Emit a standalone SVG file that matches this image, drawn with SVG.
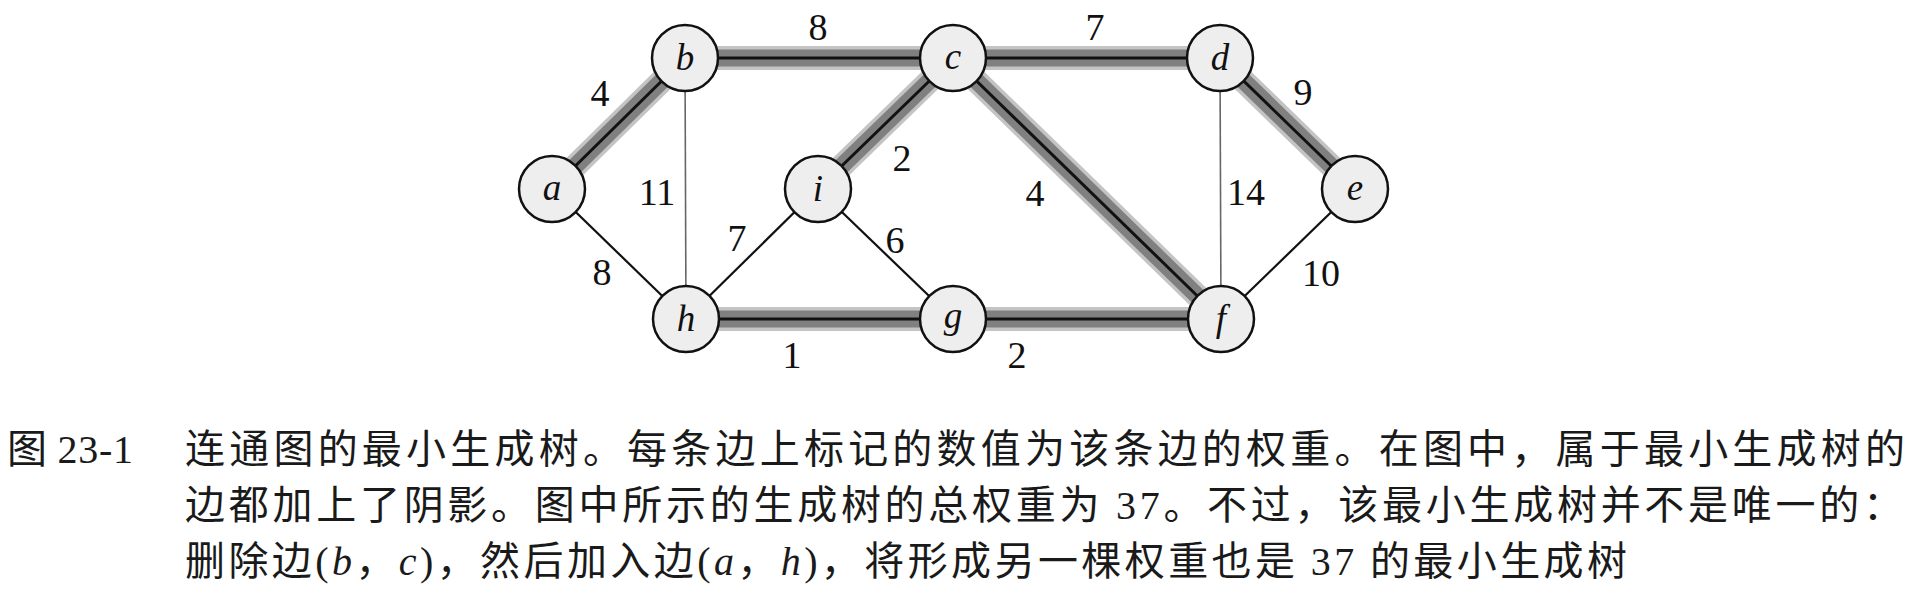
<svg xmlns="http://www.w3.org/2000/svg" width="1918" height="596" viewBox="0 0 1918 596">
<style>
.halo{stroke:#c4c4c4;stroke-width:24;stroke-linecap:butt;fill:none}
.band{stroke:#808080;stroke-width:17;stroke-linecap:butt;fill:none}
.core{stroke:#111;stroke-width:3;fill:none}
.thin{stroke:#111;stroke-width:2.2;fill:none}
.light{stroke:#666;stroke-width:1.6;fill:none}
.node circle{fill:#eeeeee;stroke:#111;stroke-width:2.5}
.node text{font-family:"Liberation Serif",serif;font-style:italic;font-size:37px;fill:#111;text-anchor:middle}
.w{font-family:"Liberation Serif",serif;font-size:38px;fill:#111;text-anchor:middle}
.cap{font-family:"Noto Sans CJK SC","Noto Sans CJK JP",sans-serif;font-size:40px;fill:#1a1a1a}
.lat{font-family:"Liberation Serif",serif}
.it{font-family:"Liberation Serif",serif;font-style:italic}
</style>
<rect width="1918" height="596" fill="#fff"/>
<defs>
<g id="mst">
<line x1="552" y1="189" x2="685" y2="58"/>
<line x1="685" y1="58" x2="953" y2="58"/>
<line x1="953" y1="58" x2="1220" y2="58"/>
<line x1="953" y1="58" x2="818" y2="189"/>
<line x1="953" y1="58" x2="1221" y2="319"/>
<line x1="1220" y1="58" x2="1355" y2="189"/>
<line x1="686" y1="319" x2="953" y2="319"/>
<line x1="953" y1="319" x2="1221" y2="319"/>
</g>
</defs>
<g id="connectors">
<use href="#mst" class="halo"/>
<use href="#mst" class="band"/>
<use href="#mst" class="core"/>
<line class="thin" x1="552" y1="189" x2="686" y2="319"/>
<line class="light" x1="685" y1="58" x2="686" y2="319"/>
<line class="thin" x1="686" y1="319" x2="818" y2="189"/>
<line class="thin" x1="818" y1="189" x2="953" y2="319"/>
<line class="light" x1="1220" y1="58" x2="1221" y2="319"/>
<line class="thin" x1="1355" y1="189" x2="1221" y2="319"/>
</g>
<g id="weights">
<text class="w" x="600" y="106">4</text>
<text class="w" x="818" y="40">8</text>
<text class="w" x="1095" y="40">7</text>
<text class="w" x="657" y="205">11</text>
<text class="w" x="737" y="251">7</text>
<text class="w" x="602" y="285">8</text>
<text class="w" x="902" y="171">2</text>
<text class="w" x="1035" y="206">4</text>
<text class="w" x="1246" y="205">14</text>
<text class="w" x="895" y="253">6</text>
<text class="w" x="1303" y="105">9</text>
<text class="w" x="1321" y="286">10</text>
<text class="w" x="792" y="368">1</text>
<text class="w" x="1017" y="368">2</text>
</g>
<g id="node-a" class="node"><circle cx="552" cy="189" r="33"/><text x="552" y="200">a</text></g>
<g id="node-b" class="node"><circle cx="685" cy="58" r="33"/><text x="685" y="70">b</text></g>
<g id="node-c" class="node"><circle cx="953" cy="58" r="33"/><text x="953" y="69">c</text></g>
<g id="node-d" class="node"><circle cx="1220" cy="58" r="33"/><text x="1220" y="70">d</text></g>
<g id="node-e" class="node"><circle cx="1355" cy="189" r="33"/><text x="1355" y="200">e</text></g>
<g id="node-f" class="node"><circle cx="1221" cy="319" r="33"/><text x="1221" y="331">f</text></g>
<g id="node-g" class="node"><circle cx="953" cy="319" r="33"/><text x="953" y="328">g</text></g>
<g id="node-h" class="node"><circle cx="686" cy="319" r="33"/><text x="686" y="331">h</text></g>
<g id="node-i" class="node"><circle cx="818" cy="189" r="33"/><text x="818" y="201">i</text></g>
<g id="caption">
<text class="cap" x="7" y="463" textLength="126" lengthAdjust="spacing">图 <tspan class="lat">23-1</tspan></text>
<text class="cap" x="185" y="463" textLength="1720" lengthAdjust="spacing">连通图的最小生成树。每条边上标记的数值为该条边的权重。在图中，属于最小生成树的</text>
<text class="cap" x="185" y="519" textLength="1718" lengthAdjust="spacing">边都加上了阴影。图中所示的生成树的总权重为 <tspan class="lat">37</tspan>。不过，该最小生成树并不是唯一的：</text>
<text class="cap" x="185" y="575" textLength="1442" lengthAdjust="spacing">删除边<tspan class="lat">(</tspan><tspan class="it">b</tspan>，<tspan class="it">c</tspan><tspan class="lat">)</tspan>，然后加入边<tspan class="lat">(</tspan><tspan class="it">a</tspan>，<tspan class="it">h</tspan><tspan class="lat">)</tspan>，将形成另一棵权重也是 <tspan class="lat">37</tspan> 的最小生成树</text>
</g>
</svg>
